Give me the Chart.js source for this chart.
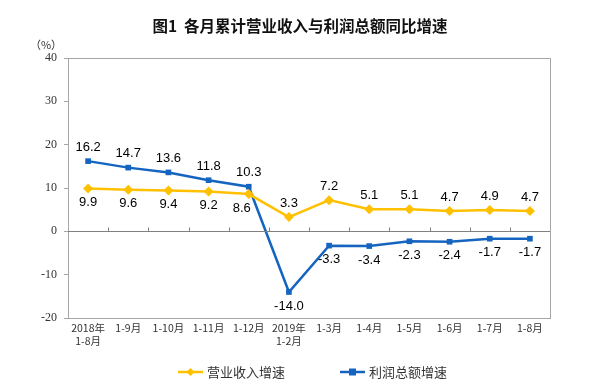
<!DOCTYPE html>
<html>
<head>
<meta charset="utf-8">
<script src="https://cdn.jsdelivr.net/npm/chart.js@4/dist/chart.umd.min.js"></script>
<style>
  html, body { margin: 0; padding: 0; background: #fff; }
  #wrap { width: 600px; height: 389px; position: relative; }
</style>
</head>
<body>
<div id="wrap"><canvas id="chart" width="600" height="389"></canvas></div>
<script>
const categories = [
    ['2018年', '1-8月'], '1-9月', '1-10月', '1-11月', '1-12月',
    ['2019年', '1-2月'], '1-3月', '1-4月', '1-5月', '1-6月', '1-7月', '1-8月'
];
const revenueGrowth = [9.9, 9.6, 9.4, 9.2, 8.6, 3.3, 7.2, 5.1, 5.1, 4.7, 4.9, 4.7];
const profitGrowth = [16.2, 14.7, 13.6, 11.8, 10.3, -14.0, -3.3, -3.4, -2.3, -2.4, -1.7, -1.7];
const yTicks = [-20, -10, 0, 10, 20, 30, 40];

const YELLOW = '#FFC000';
const BLUE = '#1565C0';
const AXIS = '#a6a6a6';
const CJK = '"Noto Sans CJK SC", sans-serif';

// box round the plot, small ticks on the zero line, point labels, title and legend
const decorPlugin = {
    id: 'decor',
    afterDraw(chart) {
        const ctx = chart.ctx;
        const area = chart.chartArea;
        const y = chart.scales.y;
        ctx.save();

        ctx.strokeStyle = AXIS;
        ctx.lineWidth = 1;
        ctx.strokeRect(Math.round(area.left) + 0.5, Math.round(area.top) + 0.5,
            Math.round(area.right - area.left), Math.round(area.bottom - area.top));

        const zeroY = Math.round(y.getPixelForValue(0)) + 0.5;
        ctx.strokeStyle = '#808080';
        ctx.beginPath();
        ctx.moveTo(area.left, zeroY);
        ctx.lineTo(area.right, zeroY);
        const step = (area.right - area.left) / categories.length;
        for (let i = 1; i < categories.length; i++) {
            const px = Math.round(area.left + step * i) + 0.5;
            ctx.moveTo(px, zeroY);
            ctx.lineTo(px, zeroY - 4);
        }
        ctx.stroke();

        // value labels
        ctx.fillStyle = '#000';
        ctx.font = '13px "Liberation Sans", Arial, sans-serif';
        ctx.textAlign = 'center';
        ctx.textBaseline = 'middle';
        chart.data.datasets.forEach(function (ds, di) {
            const meta = chart.getDatasetMeta(di);
            meta.data.forEach(function (pt, i) {
                const below = ds.labelBelow(i);
                const dx = ds.labelShift ? ds.labelShift(i) : 0;
                ctx.fillText(ds.data[i].toFixed(1), pt.x + dx, pt.y + (below ? 14 : -14));
            });
        });

        // title
        ctx.font = 'bold 15.5px ' + CJK;
        ctx.fillStyle = '#111';
        ctx.fillText('图1  各月累计营业收入与利润总额同比增速', 300, 26);
        ctx.font = '11px ' + CJK;
        ctx.fillStyle = '#333';
        ctx.fillText('（%）', 46, 45);

        // legend
        const items = [
            { label: '营业收入增速', color: YELLOW, style: 'diamond', x: 178 },
            { label: '利润总额增速', color: BLUE, style: 'square', x: 340 }
        ];
        const ly = 372;
        items.forEach(function (it) {
            ctx.strokeStyle = it.color;
            ctx.fillStyle = it.color;
            ctx.lineWidth = 2.5;
            ctx.beginPath();
            ctx.moveTo(it.x, ly);
            ctx.lineTo(it.x + 25, ly);
            ctx.stroke();
            const cx = it.x + 12.5;
            ctx.beginPath();
            if (it.style === 'diamond') {
                ctx.moveTo(cx, ly - 4);
                ctx.lineTo(cx + 4, ly);
                ctx.lineTo(cx, ly + 4);
                ctx.lineTo(cx - 4, ly);
                ctx.closePath();
            } else {
                ctx.rect(cx - 3.5, ly - 3.5, 7, 7);
            }
            ctx.fill();
            ctx.fillStyle = '#333';
            ctx.font = '13px ' + CJK;
            ctx.textAlign = 'left';
            ctx.fillText(it.label, it.x + 29, ly);
        });

        ctx.restore();
    }
};

const ctx = document.getElementById('chart').getContext('2d');
new Chart(ctx, {
    type: 'line',
    data: {
        labels: categories,
        datasets: [{
            label: '营业收入增速',
            data: revenueGrowth,
            borderColor: YELLOW,
            backgroundColor: YELLOW,
            borderWidth: 2.5,
            pointStyle: 'rectRot',
            pointRadius: 5,
            pointBorderWidth: 0,
            labelBelow: function (i) { return i < 5; },
            labelShift: function (i) { return i === 4 ? -7 : 0; },
            tension: 0
        }, {
            label: '利润总额增速',
            data: profitGrowth,
            borderColor: BLUE,
            backgroundColor: BLUE,
            borderWidth: 2.5,
            pointStyle: 'rect',
            pointRadius: 4,
            pointBorderWidth: 0,
            labelBelow: function (i) { return i >= 5; },
            tension: 0
        }]
    },
    options: {
        responsive: false,
        animation: false,
        layout: { padding: { top: 58, right: 50, left: 0, bottom: 0 } },
        plugins: {
            legend: { display: false },
            title: { display: false },
            tooltip: { enabled: false }
        },
        scales: {
            x: {
                type: 'category',
                offset: true,
                grid: { display: false, drawTicks: false },
                border: { display: false },
                ticks: {
                    color: '#333',
                    font: { family: CJK, size: 10.5 },
                    padding: 4,
                    maxRotation: 0,
                    autoSkip: false
                },
                afterFit: function (scale) { scale.height = 71; }
            },
            y: {
                min: -20,
                max: 40,
                afterBuildTicks: function (scale) {
                    scale.ticks = yTicks.map(function (v) { return { value: v }; });
                },
                grid: {
                    color: 'transparent',
                    tickColor: AXIS,
                    tickLength: 4,
                    drawTicks: true
                },
                border: { display: true, color: AXIS },
                ticks: {
                    color: '#333',
                    font: { family: '"Liberation Serif", serif', size: 12 },
                    padding: 7
                },
                afterFit: function (scale) { scale.width = 68; }
            }
        }
    },
    plugins: [decorPlugin]
});
</script>
</body>
</html>
